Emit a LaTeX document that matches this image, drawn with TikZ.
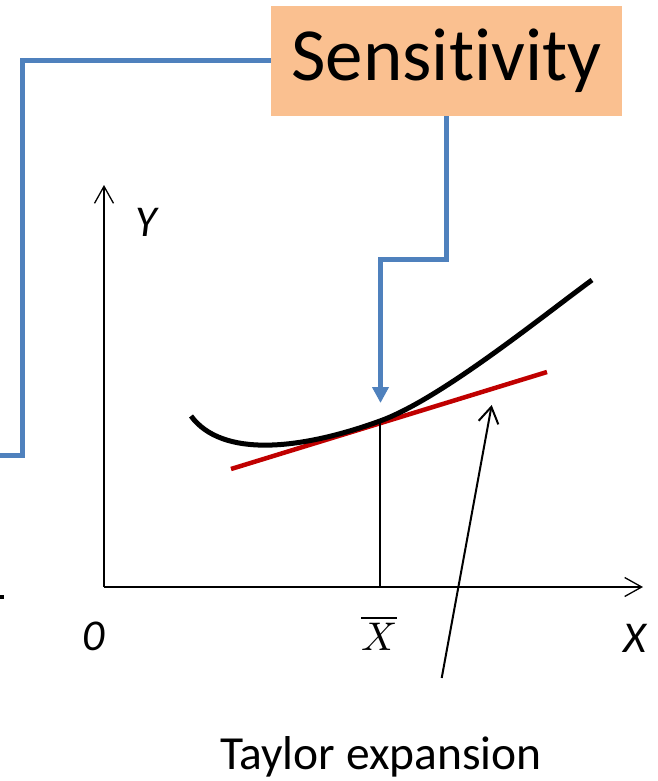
\documentclass[tikz,border=0pt]{standalone}
\usepackage{fontspec}
\usepackage{unicode-math}
\setmainfont{Carlito}[Ligatures={NoCommon}]
\setmathfont{Latin Modern Math}
\usetikzlibrary{arrows.meta}
\definecolor{sensblue}{HTML}{4F81BD}
\definecolor{sensfill}{HTML}{FAC090}
\definecolor{tanred}{HTML}{C00000}
\begin{document}
\begin{tikzpicture}[x=1pt,y=-1pt,
  blueline/.style={draw=sensblue,line width=5pt,line join=miter},
  blueshadow/.style={draw=black,opacity=0.12,line width=5pt,line join=miter},
  sensbox/.style={fill=sensfill,draw=none,minimum width=351pt,minimum height=110pt,inner sep=0pt,
     font=\fontsize{75}{75}\selectfont},
  axis/.style={draw=black,line width=1.3pt,-{Straight Barb[length=17pt,width=19pt,line width=1.3pt]}},
  curvestyle/.style={draw=black,line width=5pt,line cap=butt},
  tangent/.style={draw=tanred,line width=4.5pt},
  pointer/.style={draw=black,line width=2pt,-{Straight Barb[length=16pt,width=20pt,line width=2pt]}},
  lbl/.style={font=\fontsize{44}{44}\selectfont\itshape,inner sep=0pt},
  txt/.style={font=\fontsize{47.5}{47.5}\selectfont,inner sep=0pt}
]
\useasboundingbox (0,0) rectangle (657,781);

% Sensitivity box
\node[sensbox] (sens) at (446.5,61) {Sensitivity};

% connector coordinates
\coordinate (lend) at (0,455);
\coordinate (c1) at (22.5,455);
\coordinate (c2) at (22.5,61);
\coordinate (c3) at (446.5,259);
\coordinate (c4) at (380.5,259);
\coordinate (tip) at (380.5,403);
\coordinate (tipbase) at (380.5,388);

% shadows
\begin{scope}[shift={(2,2)}]
\draw[blueshadow] (lend) -- (c1) -- (c2) -- (sens.west);
\draw[blueshadow] (sens.south) -- (c3) -- (c4) -- (tipbase);
\end{scope}

% blue connectors
\draw[blueline] (lend) -- (c1) -- (c2) -- (sens.west);
\draw[blueline,-{Triangle[length=16pt,width=16pt]}] (sens.south) -- (c3) -- (c4) -- (tip);

% axes
\coordinate (O) at (104,587);
\coordinate (ytip) at (104,185);
\coordinate (xtip) at (643,587);
\draw[axis] (O) -- (ytip);
\draw[axis] (O) -- (xtip);

% tangent line
\coordinate (rs) at (231,469);
\coordinate (re) at (547,372);
\draw[tangent] (rs) -- (re);

% curve
\coordinate (T) at (380,421);
\draw[curvestyle] (191,416) .. controls (222,458) and (300,450) .. (T)
                            .. controls (440,399.4) and (542,316.5) .. (592,280);

% drop line
\draw[black,line width=2pt] (T) -- (T |- O);

% small mark at left
\fill[black] (0,595) rectangle (4,599);

% labels
\node[lbl] (ylab) at (146,222) {Y};
\node[lbl] (zlab) at (94,636) {0};
\node[lbl] (xlab) at (635,638) {X};
\node[inner sep=0pt,font=\fontsize{40}{40}\selectfont] (xbar) at (379,633) {$\overline{X}$};
\node[txt] (taylor) at (381,757) {Taylor expansion};

% Taylor pointer
\coordinate (tb) at (441.7,678);
\coordinate (tt) at (491.7,405);
\draw[pointer] (tb) -- (tt);
\end{tikzpicture}
\end{document}
